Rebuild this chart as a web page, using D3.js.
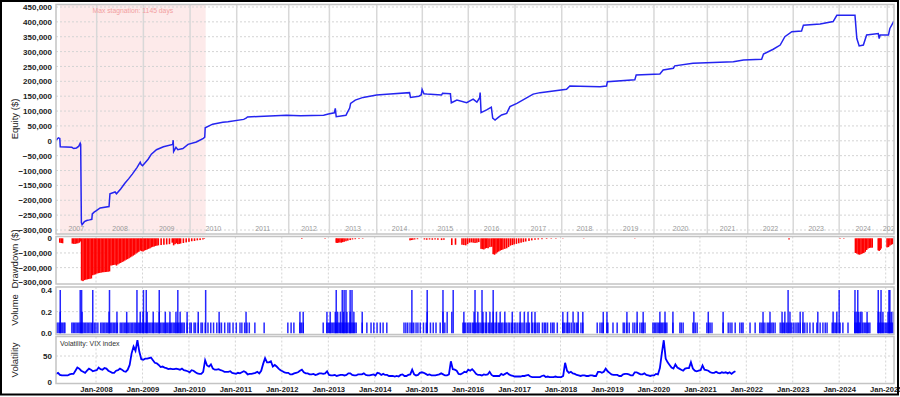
<!DOCTYPE html>
<html><head><meta charset="utf-8">
<script src="https://cdn.jsdelivr.net/npm/d3@7"></script>
<style>
html,body{margin:0;padding:0;background:#fff;}
svg{display:block;font-family:"Liberation Sans",Arial,sans-serif;}
</style></head>
<body><svg id="c" width="900" height="397"></svg>
<script>
// ---------- DATA (decimal years) ----------
const equityPts = [
[2007.14,2],[2007.19,10],[2007.22,8],[2007.23,-20],[2007.48,-22],[2007.52,-26],[2007.58,-24],[2007.63,-18],[2007.66,-8],[2007.67,-12],
[2007.685,-275],[2007.70,-282],[2007.75,-272],[2007.80,-268],[2007.86,-266],[2007.91,-264],[2007.92,-246],[2007.96,-240],[2008.0,-236],
[2008.09,-226],[2008.28,-221],[2008.30,-178],[2008.41,-172],[2008.44,-178],[2008.53,-162],[2008.62,-143],[2008.70,-128],[2008.78,-112],
[2008.88,-90],[2008.95,-72],[2008.97,-80],[2009.00,-84],[2009.12,-62],[2009.19,-45],[2009.30,-30],[2009.45,-20],[2009.65,-12],[2009.66,2],
[2009.67,-36],[2009.72,-22],[2009.76,-30],[2009.87,-26],[2009.98,-12],[2010.16,-4],[2010.31,8],[2010.34,12],[2010.35,44],[2010.51,56],
[2010.73,62],[2010.84,64],[2011.18,72],[2011.23,76],[2011.26,80],[2011.5,82],[2012.1,86],[2012.4,84],[2012.9,86],[2013.0,90],
[2013.13,94],[2013.15,109],[2013.17,81],[2013.38,86],[2013.40,92],[2013.46,110],[2013.48,126],[2013.58,137],[2013.75,146],[2014.04,154],
[2014.33,157],[2014.75,162],[2014.77,146],[2014.95,150],[2015.00,154],[2015.02,173],[2015.06,158],[2015.12,157],[2015.44,154],[2015.46,160],
[2015.63,158],[2015.65,128],[2015.77,137],[2015.98,128],[2016.12,140],[2016.20,130],[2016.26,145],[2016.27,162],[2016.29,95],[2016.41,104],
[2016.51,113],[2016.54,76],[2016.59,70],[2016.66,79],[2016.73,87],[2016.84,92],[2016.91,115],[2017.06,126],[2017.41,157],[2017.56,162],
[2018.13,173],[2018.20,184],[2018.85,182],[2018.99,184],[2019.01,199],[2019.60,205],[2019.63,221],[2020.14,225],[2020.21,238],[2020.43,244],
[2020.46,252],[2020.85,261],[2021.72,266],[2021.94,272],[2022.33,274],[2022.37,292],[2022.58,308],[2022.73,322],[2022.83,350],[2022.98,367],
[2023.19,369],[2023.23,389],[2023.59,393],[2023.87,401],[2023.95,422],[2024.34,422],[2024.38,344],[2024.43,319],[2024.52,322],[2024.59,356],
[2024.84,361],[2024.86,344],[2024.88,356],[2025.06,356],[2025.09,378],[2025.18,403]
];
const drawdownPts = [
[2007.22,-30],[2007.25,-32],[2007.28,-34],[2007.49,-36],[2007.52,-38],[2007.55,-38],[2007.58,-36],[2007.61,-34],[2007.64,-30],[2007.66,-22],
[2007.69,-288],[2007.72,-292],[2007.75,-285],[2007.78,-282],[2007.81,-280],[2007.84,-278],[2007.87,-276],[2007.90,-274],[2007.93,-252],
[2007.96,-248],[2007.99,-246],[2008.02,-240],[2008.05,-238],[2008.08,-236],[2008.11,-234],[2008.14,-232],[2008.17,-231],[2008.20,-230],
[2008.23,-229],[2008.26,-228],[2008.29,-226],[2008.32,-186],[2008.35,-184],[2008.38,-182],[2008.41,-180],[2008.44,-186],[2008.47,-178],
[2008.50,-172],[2008.53,-168],[2008.56,-162],[2008.59,-158],[2008.62,-152],[2008.65,-146],[2008.68,-142],[2008.71,-136],[2008.74,-130],
[2008.77,-124],[2008.80,-118],[2008.83,-112],[2008.86,-104],[2008.89,-98],[2008.92,-92],[2008.95,-84],[2008.98,-88],[2009.01,-90],
[2009.04,-84],[2009.07,-80],[2009.10,-76],[2009.13,-72],[2009.16,-68],[2009.19,-62],[2009.22,-58],[2009.25,-56],[2009.28,-52],[2009.31,-50],
[2009.34,-48],[2009.40,-46],[2009.46,-44],[2009.52,-42],[2009.58,-40],[2009.64,-30],[2009.67,-48],[2009.70,-40],[2009.73,-34],[2009.76,-40],
[2009.79,-38],[2009.82,-36],[2009.88,-32],[2009.94,-28],[2010.00,-24],[2010.06,-20],[2010.12,-18],[2010.18,-14],[2010.24,-12],[2010.30,-8],[2010.33,-4],
[2012.43,-4],[2012.93,-3],[2013.17,-30],[2013.19,-32],[2013.22,-30],[2013.25,-28],[2013.28,-30],[2013.31,-26],[2013.34,-24],[2013.38,-20],
[2013.42,-16],[2013.47,-12],[2013.52,-8],[2013.58,-6],[2013.66,-4],[2013.74,-3],
[2014.76,-14],[2014.79,-12],[2014.82,-10],[2014.86,-8],[2014.92,-6],[2015.07,-8],[2015.12,-10],[2015.18,-8],[2015.24,-10],[2015.30,-8],
[2015.36,-10],[2015.44,-12],[2015.49,-10],[2015.66,-46],[2015.74,-44],[2015.88,-44],[2015.92,-46],[2015.96,-48],[2016.00,-40],[2016.04,-30],
[2016.08,-28],[2016.12,-30],[2016.16,-32],[2016.20,-30],[2016.24,-26],[2016.29,-72],[2016.32,-74],[2016.35,-76],[2016.38,-70],[2016.41,-66],
[2016.44,-68],[2016.48,-60],[2016.52,-58],[2016.55,-108],[2016.58,-112],[2016.61,-104],[2016.64,-96],[2016.67,-90],[2016.70,-84],[2016.73,-80],
[2016.76,-76],[2016.80,-72],[2016.84,-68],[2016.88,-60],[2016.92,-50],[2016.96,-46],[2017.00,-42],[2017.05,-38],[2017.10,-34],[2017.15,-30],
[2017.20,-26],[2017.25,-22],[2017.32,-18],[2017.38,-14],[2017.45,-10],[2017.52,-8],[2017.60,-6],[2017.70,-4],[2017.80,-3],[2017.90,-3],[2018.05,-2],
[2018.50,-2],[2019.60,-2],[2022.92,-8],[2024.02,-3],[2024.10,-3],
[2024.35,-100],[2024.38,-104],[2024.41,-110],[2024.44,-112],[2024.47,-108],[2024.50,-104],[2024.53,-100],[2024.56,-92],[2024.59,-80],
[2024.62,-70],[2024.65,-66],[2024.68,-64],[2024.71,-64],[2024.84,-82],[2024.86,-86],[2024.88,-80],[2024.90,-70],[2025.03,-62],[2025.06,-60],
[2025.09,-50],[2025.12,-44],[2025.15,-40]
];
const vol01 = [2007.15,2007.18,2007.21,2007.25,2007.28,2007.31,2007.33,
2007.48,2007.51,2007.54,2007.57,2007.60,2007.63,2007.66,2007.69,2007.72,2007.75,2007.78,2007.81,2007.84,2007.87,2007.90,2007.93,2007.97,
2008.00,2008.04,2008.10,2008.13,2008.16,2008.19,2008.22,2008.25,2008.28,2008.31,2008.34,2008.37,2008.40,2008.43,2008.46,2008.52,2008.55,
2008.58,2008.61,2008.64,2008.67,2008.70,2008.73,2008.76,2008.79,2008.82,2008.85,2008.88,2008.91,2008.94,2008.97,2009.00,2009.03,2009.06,
2009.09,2009.12,2009.15,2009.18,2009.21,2009.24,2009.27,2009.30,2009.33,2009.36,2009.39,2009.42,2009.45,2009.48,2009.51,2009.54,2009.57,
2009.60,2009.63,2009.66,2009.69,2009.72,2009.75,2009.78,2009.81,2009.84,2009.87,2009.90,2009.96,2010.02,2010.05,2010.11,2010.14,2010.20,
2010.26,2010.29,2010.35,2010.41,2010.47,2010.53,2010.60,2010.66,2010.70,2010.77,2010.84,2010.88,2010.95,2011.02,2011.10,2011.14,2011.20,
2011.25,2011.30,2011.42,2011.62,2012.13,2012.20,2012.26,2012.39,2012.42,2012.46,2012.89,2012.97,2013.00,2013.03,2013.06,2013.09,2013.12,
2013.15,2013.18,2013.21,2013.24,2013.27,2013.30,2013.33,2013.36,2013.39,2013.42,2013.45,2013.48,2013.51,2013.54,2013.57,2013.60,2013.73,
2013.83,2013.92,2013.98,2014.05,2014.12,2014.18,2014.26,2014.63,2014.67,2014.71,2014.76,2014.80,2014.84,2014.89,2014.93,2014.98,2015.05,
2015.11,2015.20,2015.26,2015.32,2015.41,2015.51,2015.90,2015.93,2015.96,2016.00,2016.03,2016.06,2016.10,2016.13,2016.17,2016.20,2016.24,
2016.27,2016.31,2016.34,2016.38,2016.41,2016.45,2016.48,2016.52,2016.55,2016.59,2016.62,2016.66,2016.69,2016.73,2016.76,2016.80,2016.83,
2016.87,2016.90,2016.94,2016.97,2017.01,2017.04,2017.08,2017.12,2017.15,2017.19,2017.26,2017.30,2017.33,2017.40,2017.44,2017.47,2017.51,
2017.54,2017.61,2017.65,2017.68,2017.72,2017.79,2017.83,2017.86,2017.93,2018.05,2018.08,2018.12,2018.16,2018.19,2018.23,2018.30,2018.34,
2018.37,2018.44,2018.48,2018.79,2018.85,2018.89,2018.92,2019.00,2019.02,2019.13,2019.22,2019.35,2019.38,2019.43,2019.48,2019.56,2019.60,
2019.65,2019.71,2019.75,2019.78,2019.82,2019.99,2020.02,2020.05,2020.08,2020.11,2020.14,2020.17,2020.20,2020.23,2020.26,2020.29,2020.42,
2020.57,2020.60,2020.64,2020.85,2020.90,2020.94,2021.15,2021.19,2021.22,2021.26,2021.50,2021.61,2021.65,2021.69,2021.76,2021.86,2021.90,
2021.93,2022.08,2022.19,2022.29,2022.32,2022.36,2022.40,2022.45,2022.48,2022.51,2022.55,2022.58,2022.62,2022.73,2022.77,2022.80,2022.83,
2022.87,2022.90,2022.94,2022.97,2023.01,2023.05,2023.09,2023.12,2023.16,2023.22,2023.26,2023.31,2023.37,2023.44,2023.52,2023.59,2023.65,
2023.70,2023.74,2023.85,2023.89,2023.92,2023.95,2024.00,2024.02,2024.08,2024.19,2024.34,2024.37,2024.40,2024.43,2024.45,2024.51,2024.54,
2024.57,2024.60,2024.63,2024.66,2024.84,2024.87,2024.90,2024.93,2024.96,2024.99,2025.02,2025.05,2025.08,2025.11,2025.14,2025.17];
const vol02 = [2007.23,2007.70,2008.28,2008.45,2008.66,2008.95,2009.01,2009.10,2009.23,2009.36,2009.49,2009.59,2009.72,2009.81,2009.96,
2010.20,2010.65,2011.23,2012.39,2012.46,2012.97,2013.04,2013.15,2013.20,2013.26,2013.33,2013.40,2013.47,2013.55,2013.73,2015.13,2015.47,
2015.56,2015.66,2015.92,2016.14,2016.22,2016.33,2016.40,2016.48,2016.55,2016.62,2016.70,2016.80,2016.96,2017.13,2017.22,2017.30,2017.38,
2017.45,2018.05,2018.15,2018.27,2018.38,2018.48,2018.92,2019.00,2019.43,2019.65,2019.78,2020.14,2020.25,2020.42,2020.87,2021.18,2021.50,
2022.36,2022.51,2022.77,2022.83,2022.94,2023.16,2023.22,2023.54,2023.87,2023.95,2024.34,2024.38,2024.42,2024.46,2024.49,2024.60,2024.84,
2024.88,2024.94,2025.05,2025.09,2025.13,2025.17];
const vol04 = [2007.23,2007.66,2007.69,2007.93,2008.29,2008.88,2009.02,2009.08,2009.36,2009.76,2010.36,2013.17,2013.30,2013.34,2013.38,
2013.47,2013.51,2014.80,2015.13,2015.47,2015.69,2016.16,2016.31,2016.55,2022.90,2024.00,2024.34,2024.40,2024.84,2024.90,2025.07,2025.09];
const vixStart = 2007.14;   // half-monthly VIX closes from this date
const vixValues = [
16,18,14,13,13,13,13,15,16,16,22,28,26,22,20,18,22,26,24,21,22,
23,28,25,24,27,26,22,20,18,18,22,23,26,24,21,20,24,33,55,68,60,80,58,44,
43,45,45,46,47,42,37,36,33,29,30,28,27,25,26,25,25,26,25,24,26,23,22,21,
19,23,22,19,17,16,16,20,42,32,30,34,26,24,24,25,23,22,20,20,20,21,18,17,
16,18,17,19,21,19,15,16,16,17,18,20,17,22,35,46,38,38,40,30,33,30,26,23,
21,19,18,18,15,15,17,18,19,22,24,19,17,17,15,15,16,14,15,17,17,16,17,21,
14,13,13,14,12,13,14,14,13,14,17,17,14,13,13,15,15,15,17,14,13,13,14,15,
13,18,17,14,16,14,14,12,12,12,11,12,11,14,15,12,12,14,15,24,15,13,14,18,
19,18,16,14,15,13,13,13,14,15,17,15,13,13,15,40,25,24,22,16,15,17,20,19,
24,22,25,21,16,14,14,13,15,14,15,20,14,12,12,12,12,16,14,16,18,15,13,12,
11,11,11,11,12,12,13,14,11,10,10,10,10,10,12,13,10,11,10,10,10,11,10,10,
10,12,37,22,18,20,17,16,14,13,12,13,13,12,12,13,13,12,12,20,20,18,20,26,
21,18,15,14,14,14,12,12,15,16,16,15,13,13,19,19,17,15,15,17,14,13,12,13,
13,16,15,27,55,80,45,38,33,28,26,34,28,26,24,22,26,27,27,38,26,22,21,22,
23,32,24,23,22,19,18,18,20,18,17,19,18,19,17,19,16,19,21];
const yearStarts = [2008.015,2009.018,2010.024,2011.029,2012.149,2013.023,2014.043,2015.025,2016.015,2017.02,2018.026,2019.008,2020.013,2021.16,2022.03,2023.01,2024.0,2025.035];
const yearLabels = ["2007","2008","2009","2010","2011","2012","2013","2014","2015","2016","2017","2018","2019","2020","2021","2022","2023","2024","2025"];
const stagnation = {from: 2007.225, to: 2010.36, label: "Max stagnation:  1145 days"};
const equityTicks = [-300000,-250000,-200000,-150000,-100000,-50000,0,50000,100000,150000,200000,250000,300000,350000,400000,450000];
const ddTicks = [-300000,-200000,-100000,0];
const volTicks = [0,0.2,0.4];
const vixTicks = [0,50];

// ---------- helpers ----------
const Y2D = y => { const f = Math.floor(y); const a = Date.UTC(f,0,1), b = Date.UTC(f+1,0,1); return new Date(a + (y-f)*(b-a)); };
const svg = d3.select("#c");
const L = 56, R = 894;
const x = d3.scaleUtc().domain([Y2D(2008), Y2D(2025)]).range([96, 885.7]);
const fmt = d3.format(",");
const fmt1 = d3.format(".1f");
const FONT = "Liberation Sans, Arial, sans-serif";

const panels = [
  {id:"eq", top:4.5, bot:234},
  {id:"dd", top:236.5, bot:284},
  {id:"vol", top:287, bot:334.5},
  {id:"vix", top:336.5, bot:383.5}
];
const defs = svg.append("defs");
panels.forEach(p => {
  defs.append("clipPath").attr("id","clip-"+p.id).append("rect")
    .attr("x",L).attr("y",p.top).attr("width",R-L).attr("height",p.bot-p.top);
});
const yEq = d3.scaleLinear().domain([-300000,450000]).range([230,7]);
const yDD = d3.scaleLinear().domain([-300000,0]).range([282.3,238.3]);
const yVol = d3.scaleLinear().domain([0,0.4]).range([333.3,290]);
const yVix = d3.scaleLinear().domain([0,50]).range([382.3,356]);

const grid = "#d4d4d4";
const yearTicks = x.ticks(d3.utcYear.every(1));

// ---------- equity panel ----------
const gEq = svg.append("g").attr("clip-path","url(#clip-eq)");
gEq.append("rect").attr("x",x(Y2D(stagnation.from))).attr("y",4.5)
  .attr("width",x(Y2D(stagnation.to))-x(Y2D(stagnation.from))).attr("height",229.5).attr("fill","#fdeaea");
gEq.selectAll(".hg").data(equityTicks).join("line")
  .attr("x1",L).attr("x2",R).attr("y1",d=>yEq(d)).attr("y2",d=>yEq(d))
  .attr("stroke",grid).attr("stroke-dasharray","2,2").attr("stroke-width",1);
gEq.selectAll(".vg").data(yearStarts).join("line")
  .attr("x1",d=>x(Y2D(d))).attr("x2",d=>x(Y2D(d))).attr("y1",4.5).attr("y2",234)
  .attr("stroke","#d8d8d8").attr("stroke-width",1.5);
const bounds = [x.invert(L)].concat(yearStarts.map(Y2D)).concat([x.invert(R)]);
gEq.selectAll(".yl").data(yearLabels).join("text")
  .attr("x",(d,i)=> (x(bounds[i]) + x(bounds[i+1]))/2)
  .attr("y",230.5).attr("text-anchor","middle").attr("font-size",7).attr("fill","#9a9a9a").text(d=>d);
gEq.append("text").attr("x",(x(Y2D(stagnation.from))+x(Y2D(stagnation.to)))/2).attr("y",12.5)
  .attr("text-anchor","middle").attr("font-size",6.8).attr("fill","#f2a0a0").text(stagnation.label);
gEq.append("path").datum(equityPts)
  .attr("d", d3.line().x(d=>x(Y2D(d[0]))).y(d=>yEq(d[1]*1000)))
  .attr("fill","none").attr("stroke","#2424f0").attr("stroke-width",1.5);

// ---------- drawdown panel ----------
const gDD = svg.append("g").attr("clip-path","url(#clip-dd)");
gDD.selectAll(".hg").data(ddTicks.slice(1,3)).join("line")
  .attr("x1",L).attr("x2",R).attr("y1",d=>yDD(d)).attr("y2",d=>yDD(d))
  .attr("stroke",grid).attr("stroke-dasharray","2,2");
gDD.selectAll(".vg").data(yearTicks).join("line")
  .attr("x1",d=>x(d)).attr("x2",d=>x(d)).attr("y1",236.5).attr("y2",284)
  .attr("stroke",grid).attr("stroke-dasharray","2,2");
gDD.selectAll(".bar").data(drawdownPts).join("rect")
  .attr("x",d=>x(Y2D(d[0]))-0.8).attr("width",1.6)
  .attr("y",yDD(0)).attr("height",d=>yDD(d[1]*1000)-yDD(0))
  .attr("fill","#ff0000");

// ---------- volume panel ----------
const gV = svg.append("g").attr("clip-path","url(#clip-vol)");
gV.selectAll(".hg").data([0.2]).join("line")
  .attr("x1",L).attr("x2",R).attr("y1",d=>yVol(d)).attr("y2",d=>yVol(d))
  .attr("stroke",grid).attr("stroke-dasharray","2,2");
gV.selectAll(".vg").data(yearTicks).join("line")
  .attr("x1",d=>x(d)).attr("x2",d=>x(d)).attr("y1",287).attr("y2",334.5)
  .attr("stroke",grid).attr("stroke-dasharray","2,2");
const volData = vol01.map(t=>[t,0.1]).concat(vol02.map(t=>[t,0.2])).concat(vol04.map(t=>[t,0.4]));
gV.selectAll(".vb").data(volData).join("line")
  .attr("x1",d=>x(Y2D(d[0]))).attr("x2",d=>x(Y2D(d[0])))
  .attr("y1",yVol(0)).attr("y2",d=>yVol(d[1]))
  .attr("stroke","#0000ff").attr("stroke-width",1.5).attr("stroke-opacity",0.85);

// ---------- volatility panel ----------
const gX = svg.append("g").attr("clip-path","url(#clip-vix)");
gX.selectAll(".hg").data([50]).join("line")
  .attr("x1",L).attr("x2",R).attr("y1",d=>yVix(d)).attr("y2",d=>yVix(d))
  .attr("stroke",grid).attr("stroke-dasharray","2,2");
gX.selectAll(".vg").data(yearTicks).join("line")
  .attr("x1",d=>x(d)).attr("x2",d=>x(d)).attr("y1",336.5).attr("y2",383.5)
  .attr("stroke",grid).attr("stroke-dasharray","2,2");
gX.append("path").datum(vixValues)
  .attr("d", d3.line().x((d,i)=>x(Y2D(vixStart + i/24))).y(d=>yVix(d)))
  .attr("fill","none").attr("stroke","#0000ff").attr("stroke-width",1.8);
svg.append("text").attr("x",60).attr("y",346).attr("font-size",7).attr("fill","#333").text("Volatility: VIX index");

// ---------- frames ----------
panels.forEach(p => {
  svg.append("rect").attr("x",L).attr("y",p.top).attr("width",R-L).attr("height",p.bot-p.top)
    .attr("fill","none").attr("stroke","#c4c4c4").attr("stroke-width",1.5);
});

// ---------- y axes ----------
function yAxis(scale, ticks, f){
  const g = svg.append("g").attr("transform",`translate(${L},0)`)
    .call(d3.axisLeft(scale).tickValues(ticks).tickFormat(f).tickSize(0).tickPadding(4));
  g.select(".domain").remove();
  g.selectAll("text").attr("font-size",8).attr("font-weight","bold").attr("fill","#222").attr("font-family",FONT);
}
yAxis(yEq, equityTicks, fmt);
yAxis(yDD, ddTicks, fmt);
yAxis(yVol, volTicks, fmt1);
yAxis(yVix, vixTicks, d3.format("d"));

// ---------- x axis ----------
const gx = svg.append("g").attr("transform","translate(0,383)")
  .call(d3.axisBottom(x).tickValues(yearTicks).tickFormat(d3.utcFormat("Jan-%Y")).tickSize(0).tickPadding(3.5));
gx.select(".domain").remove();
gx.selectAll("text").attr("font-size",7.6).attr("font-weight","bold").attr("fill","#222").attr("font-family",FONT);

// ---------- axis titles ----------
[["Equity ($)",119],["Drawdown ($)",259],["Volume",310],["Volatility",360]].forEach(([t,cy])=>{
  svg.append("text").attr("transform",`translate(18,${cy}) rotate(-90)`)
    .attr("text-anchor","middle").attr("font-size",9.5).attr("fill","#222").text(t);
});

// ---------- outer border ----------
svg.append("rect").attr("x",1).attr("y",1).attr("width",897).attr("height",393.5)
  .attr("fill","none").attr("stroke","#000").attr("stroke-width",2);
</script></body></html>
